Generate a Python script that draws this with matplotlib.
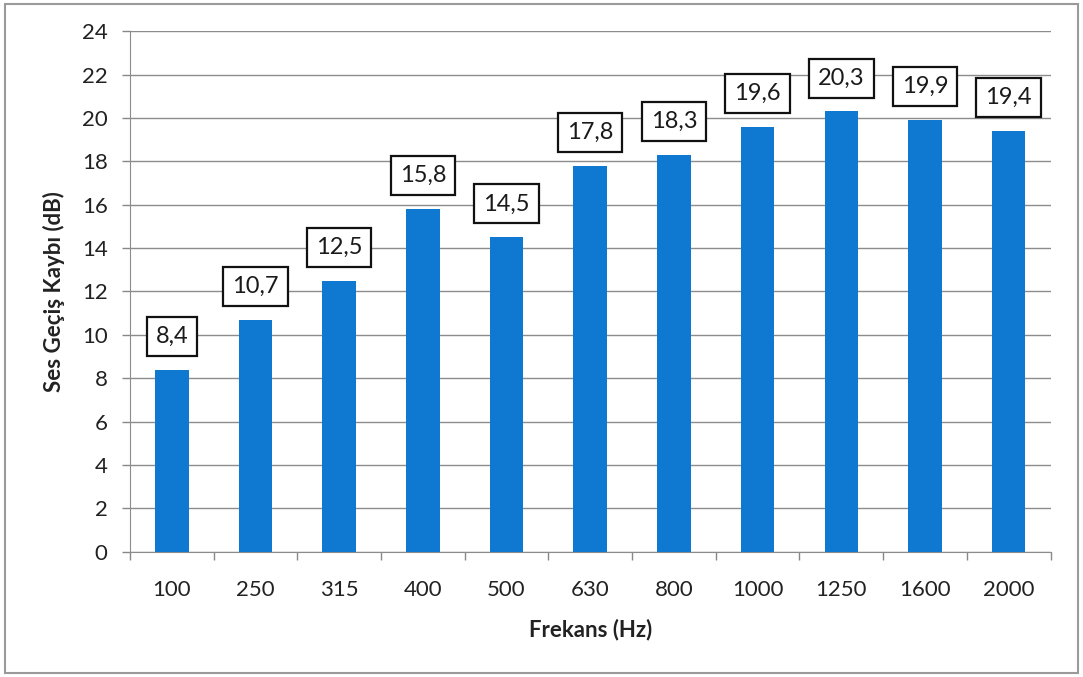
import matplotlib
matplotlib.use('Agg')
import matplotlib.pyplot as plt
from matplotlib.patches import Rectangle

# frekans bantlari ve ses gecis kaybi (dB)
frekans = ['100', '250', '315', '400', '500', '630', '800', '1000', '1250', '1600', '2000']
kayip = [8.4, 10.7, 12.5, 15.8, 14.5, 17.8, 18.3, 19.6, 20.3, 19.9, 19.4]
y_ticks = list(range(0, 25, 2))

plt.rcParams['font.family'] = ['Lato', 'DejaVu Sans']

fig = plt.figure(figsize=(10.83, 6.77), dpi=100)
ax = fig.add_axes([0.120, 0.185, 0.850, 0.769])

x = range(len(frekans))
ax.bar(x, kayip, width=0.4, color='#0f78d0', zorder=3)

for i, v in enumerate(kayip):
    ax.annotate('{0:.1f}'.format(v).replace('.', ','), (i, v),
                xytext=(0, 24), textcoords='offset points',
                ha='center', va='center', fontsize=17, color='#1a1a1a',
                bbox=dict(boxstyle='square,pad=0.38', fc='white', ec='#111111', lw=1.6),
                zorder=4)

ax.set_xlim(-0.5, len(frekans) - 0.5)
ax.set_ylim(0, 24)
ax.set_yticks(y_ticks)
ax.set_xticks(list(x))
ax.set_xticklabels(frekans)
ax.set_xticks([i - 0.5 for i in range(len(frekans) + 1)], minor=True)
ax.tick_params(axis='x', which='major', length=0, pad=20, labelsize=16, labelcolor='#222222')
ax.tick_params(axis='x', which='minor', length=6, color='#888888', width=1)
ax.tick_params(axis='y', length=6, color='#888888', width=1, labelsize=16, labelcolor='#222222', pad=10)

ax.yaxis.grid(True, color='#8c8c8c', lw=1, zorder=0)
for s in ['top', 'right']:
    ax.spines[s].set_visible(False)
ax.spines['left'].set_color('#8c8c8c')
ax.spines['bottom'].set_color('#8c8c8c')

ax.set_xlabel('Frekans (Hz)', fontsize=16, fontweight='bold', color='#222222', labelpad=14)
ax.set_ylabel('Ses Geçiş Kaybı (dB)', fontsize=16, fontweight='bold', color='#222222', labelpad=12)

# grafik cercevesi
fig.patches.append(Rectangle((0.005, 0.006), 0.990, 0.988, transform=fig.transFigure,
                             fill=False, ec='#9a9a9a', lw=1.5))

plt.savefig('out.png', dpi=100)
